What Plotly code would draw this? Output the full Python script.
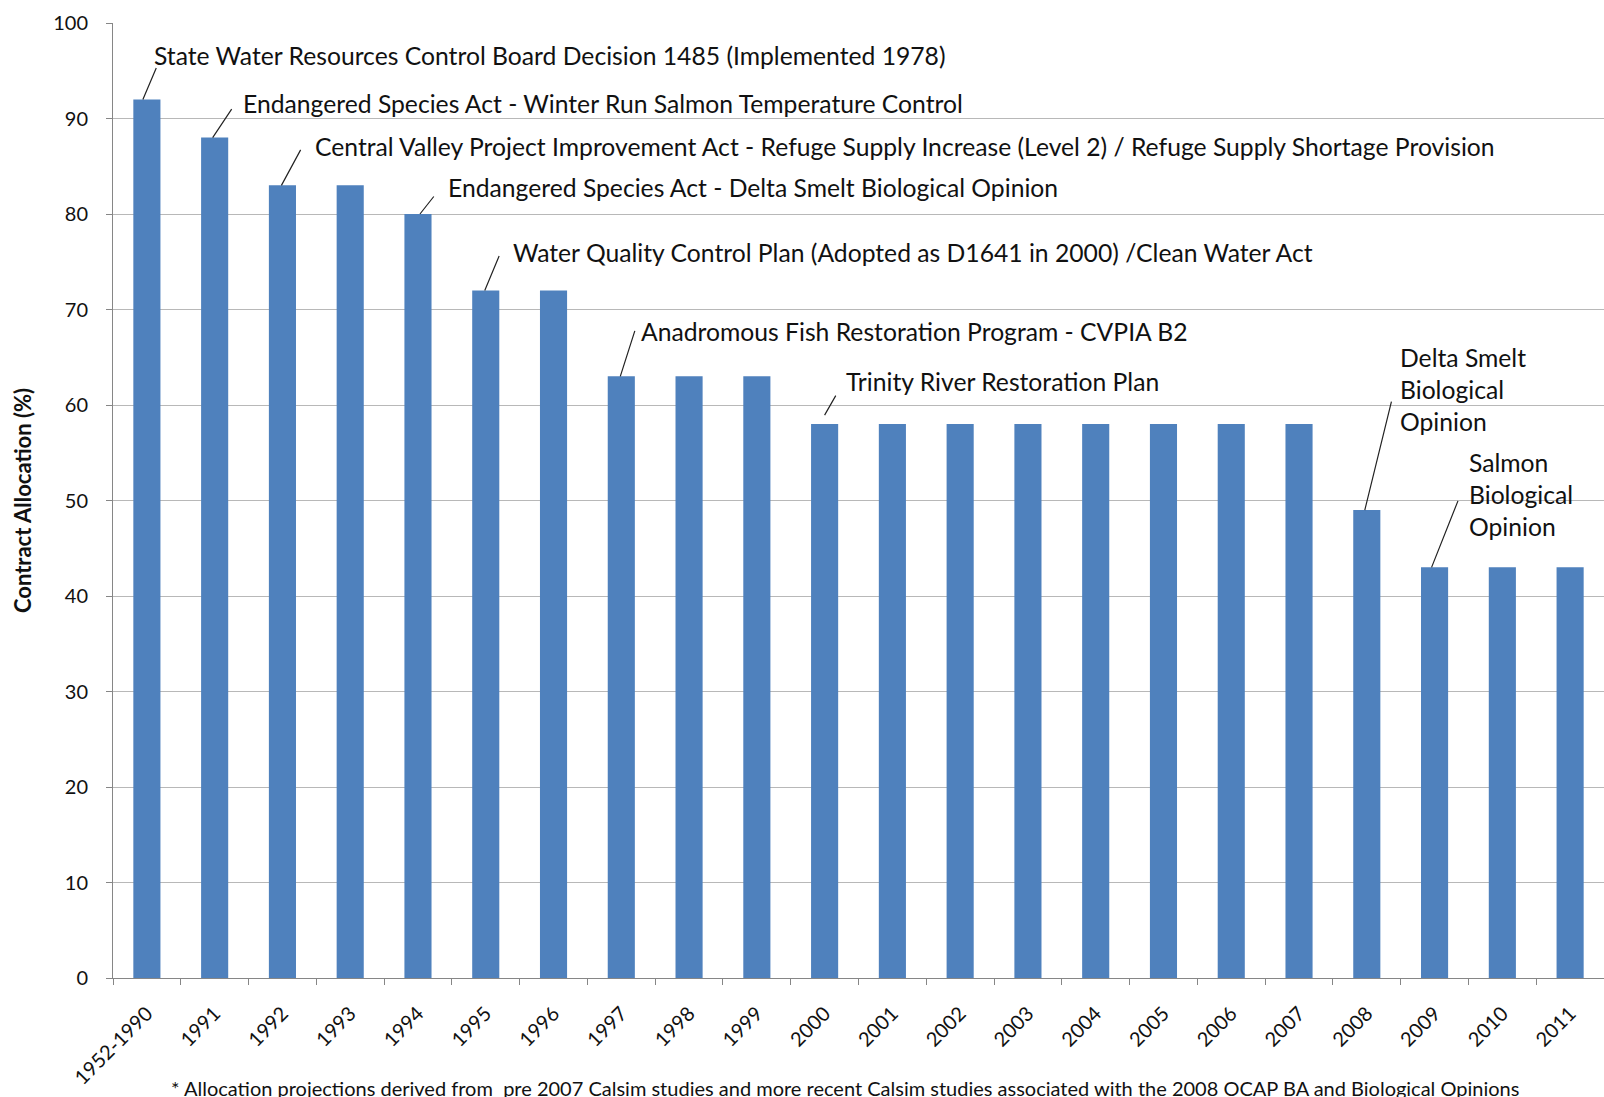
import plotly.graph_objects as go

# ---------------- data ----------------
categories = ["1952-1990", "1991", "1992", "1993", "1994", "1995", "1996", "1997",
              "1998", "1999", "2000", "2001", "2002", "2003", "2004", "2005",
              "2006", "2007", "2008", "2009", "2010", "2011"]
allocation = [92, 88, 83, 83, 80, 72, 72, 63, 63, 63, 58, 58, 58, 58, 58, 58,
              58, 58, 49, 43, 43, 43]
y_ticks = [0, 10, 20, 30, 40, 50, 60, 70, 80, 90, 100]

event_categories = ["1952-1990", "1991", "1992", "1994", "1995", "1997",
                    "2000", "2008", "2009"]
event_labels = [
    "State Water Resources Control Board Decision 1485 (Implemented 1978)",
    "Endangered Species Act - Winter Run Salmon Temperature Control",
    "Central Valley Project Improvement Act - Refuge Supply Increase (Level 2) / Refuge Supply Shortage Provision",
    "Endangered Species Act - Delta Smelt Biological Opinion",
    "Water Quality Control Plan (Adopted as D1641 in 2000) /Clean Water Act",
    "Anadromous Fish Restoration Program - CVPIA B2",
    "Trinity River Restoration Plan",
    "Delta Smelt<br>Biological<br>Opinion",
    "Salmon<br>Biological<br>Opinion",
]
y_title = "Contract Allocation (%)"
footnote = ("* Allocation projections derived from  pre 2007 Calsim studies and more recent "
            "Calsim studies associated with the 2008 OCAP BA and Biological Opinions")

# ---------------- styling (pixel offsets of labels / leader lines) ----------------
# (text dx, text dy, line head dx, line head dy, line tail ax, line tail ay)
label_style = [
    (5, -44, -4, 0, 14, -33),
    (26, -34, -2, 0, 20, -30),
    (31, -39, -1, 0, 20, -37),
    (28, -27, 2, 0, 15, -19),
    (25, -38, -1, 0, 15, -36),
    (18, -45, -1, 0, 15, -47),
    (19, -43, 0, 9, 12, -21),
    (31, -121, -2, 0, 27, -110),
    (32, -73, -3, 0, 27, -68),
]

FONT = "Lato, 'Open Sans', Arial, sans-serif"
BAR_COLOR = "#4f81bd"
AXIS_COLOR = "#868686"
GRID_COLOR = "#b8b8b8"

fig = go.Figure(go.Bar(x=categories, y=allocation, marker_color=BAR_COLOR,
                       marker_line_width=0))

annotations = []
for cat, label, st in zip(event_categories, event_labels, label_style):
    idx = categories.index(cat)
    val = allocation[idx]
    tdx, tdy, hdx, hdy, ax, ay = st
    # leader line
    annotations.append(dict(x=idx, y=val, xref="x", yref="y", text="",
                            showarrow=True, arrowhead=0, arrowwidth=1.2,
                            arrowcolor="#222222", ax=ax, ay=ay,
                            xshift=hdx, yshift=hdy))
    # label text
    annotations.append(dict(x=idx, y=val, xref="x", yref="y", text=label,
                            showarrow=False, xanchor="left", yanchor="middle",
                            align="left", xshift=tdx, yshift=-tdy,
                            font=dict(family=FONT, size=24.7, color="#111111")))

annotations.append(dict(x=0, y=0, xref="paper", yref="paper", text=footnote,
                        showarrow=False, xanchor="left", yanchor="middle",
                        xshift=56, yshift=-110,
                        font=dict(family=FONT, size=20, color="#111111")))

fig.update_layout(
    width=1604, height=1097,
    margin=dict(l=113, r=0, t=23, b=119, autoexpand=False),
    paper_bgcolor="white", plot_bgcolor="white",
    bargap=0.6, showlegend=False,
    font=dict(family=FONT, color="#111111"),
    annotations=annotations,
    xaxis=dict(type="category", range=[-0.5, len(categories) - 0.5],
               automargin=False,
               tickson="boundaries", ticks="outside", ticklen=6,
               tickcolor=AXIS_COLOR, showline=True, linecolor=AXIS_COLOR,
               linewidth=1, tickangle=-45, showgrid=False, ticklabelstandoff=15,
               tickfont=dict(family=FONT, size=20, color="#111111")),
    yaxis=dict(range=[0, 100], tickvals=y_ticks, ticks="outside", ticklen=6,
               automargin=False,
               tickcolor=AXIS_COLOR, showline=True, linecolor=AXIS_COLOR,
               linewidth=1, showgrid=True, gridcolor=GRID_COLOR, gridwidth=1,
               zeroline=False, ticklabelstandoff=14,
               tickfont=dict(family=FONT, size=20, color="#111111")),
)
fig.update_yaxes(title=dict(text="<b>" + y_title + "</b>", standoff=15,
                            font=dict(family=FONT, size=22, color="#111111")))

fig.write_html("out.html", config={"displayModeBar": False},
               post_script="document.body.style.margin='0';document.body.style.overflow='hidden';")
